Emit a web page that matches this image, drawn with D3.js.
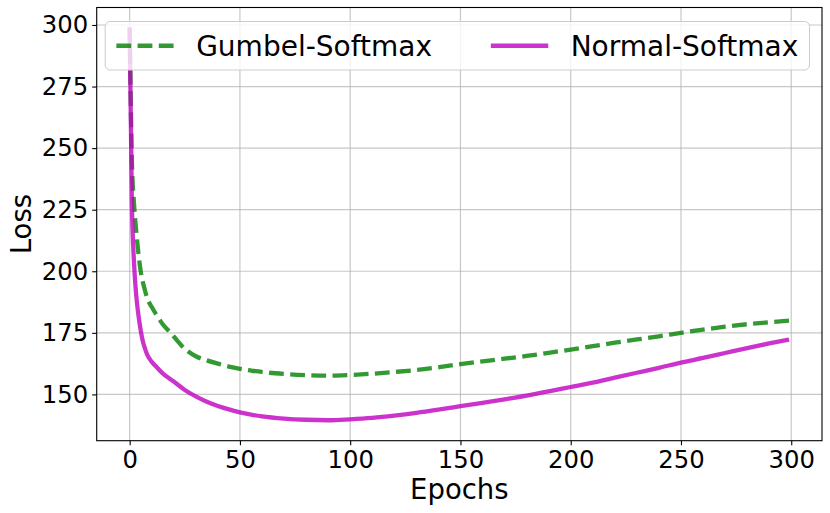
<!DOCTYPE html>
<html>
<head>
<meta charset="utf-8">
<script src="https://cdn.jsdelivr.net/npm/d3@7"></script>
<style>
  body { margin: 0; background: #fff; }
  svg { font-family: "DejaVu Sans", sans-serif; }
</style>
</head>
<body>
<svg id="chart" width="830" height="513"></svg>
<script>
// epochs (denser where the curves drop)
const epochs = [0, 1, 2, 3, 4, 5, 6, 7, 8, 9, 10, 12, 15, 18, 20, 25, 30, 35, 40, 45, 50, 55, 60,
  70, 80, 90, 100, 110, 120, 130, 140, 150, 160, 170, 180, 190, 200, 210, 220, 230, 240, 250,
  260, 270, 280, 290, 299];

const gumbel = [299, 245, 227, 216, 207, 200, 195.5, 192, 189, 187, 185.5, 182.5, 178.5, 175.5, 173.5,
  168.5, 165.5, 163.8, 162.5, 161.3, 160.4, 159.7, 159.1, 158.3, 157.8, 157.6, 157.9, 158.4, 159.1,
  159.9, 161, 162.3, 163.4, 164.5, 165.6, 166.9, 168.2, 169.6, 171, 172.3, 173.6, 175, 176.3, 177.5,
  178.5, 179.3, 180];

const normal = [299, 228, 203, 190, 182, 176, 171.5, 168.5, 166, 164.5, 163.2, 161.3, 158.5, 156.5, 155.2,
  151.8, 149.2, 147, 145.3, 143.9, 142.7, 141.8, 141.1, 140.2, 139.7, 139.5, 139.9, 140.5, 141.4,
  142.5, 143.8, 145.2, 146.6, 148, 149.5, 151.2, 153, 154.8, 156.8, 158.8, 160.8, 162.9, 164.8, 166.8,
  168.8, 170.7, 172.3];

const xTicks = [0, 50, 100, 150, 200, 250, 300];
const yTicks = [150, 175, 200, 225, 250, 275, 300];
const seriesNames = ["Gumbel-Softmax", "Normal-Softmax"];

const pl = 96.7, pr = 822, pt = 7.5, pb = 440.7;
const svg = d3.select("#chart");

const x = d3.scaleLinear().domain([-14.95, 313.95]).range([pl, pr]);
const y = d3.scaleLinear().domain([131.2, 307.1]).range([pb, pt]);

// grid
const grid = svg.append("g").attr("stroke", "#b0b0b0").attr("stroke-opacity", 0.7).attr("stroke-width", 1.2);
grid.selectAll(".gx").data(xTicks).enter().append("line")
  .attr("x1", d => x(d)).attr("x2", d => x(d)).attr("y1", pt).attr("y2", pb);
grid.selectAll(".gy").data(yTicks).enter().append("line")
  .attr("x1", pl).attr("x2", pr).attr("y1", d => y(d)).attr("y2", d => y(d));

// lines
const line = d3.line().x((d, i) => x(epochs[i])).y(d => y(d)).curve(d3.curveMonotoneX);
svg.append("path").datum(gumbel)
  .attr("d", line).attr("fill", "none")
  .attr("stroke", "#008000").attr("stroke-opacity", 0.8)
  .attr("stroke-width", 4.3).attr("stroke-dasharray", "14.8,6.4");
svg.append("path").datum(normal)
  .attr("d", line).attr("fill", "none")
  .attr("stroke", "#bf00bf").attr("stroke-opacity", 0.8)
  .attr("stroke-width", 4.3);

// axes
const xAxis = svg.append("g").attr("transform", `translate(0,${pb})`)
  .call(d3.axisBottom(x).tickValues(xTicks).tickSize(4.5).tickPadding(6));
const yAxis = svg.append("g").attr("transform", `translate(${pl},0)`)
  .call(d3.axisLeft(y).tickValues(yTicks).tickSize(4.5).tickPadding(4));
[xAxis, yAxis].forEach(a => {
  a.select(".domain").remove();
  a.selectAll("text").attr("font-size", 24.3).attr("fill", "#000").attr("font-family", "DejaVu Sans");
  a.selectAll("line").attr("stroke", "#000").attr("stroke-width", 1.1);
});

svg.append("rect").attr("x", pl).attr("y", pt)
  .attr("width", pr - pl).attr("height", pb - pt)
  .attr("fill", "none").attr("stroke", "#000").attr("stroke-width", 1.1);

svg.append("text").attr("x", (pl + pr) / 2).attr("y", 499)
  .attr("text-anchor", "middle").attr("font-size", 27.5).text("Epochs");
svg.append("text").attr("transform", `translate(31,${(pt + pb) / 2}) rotate(-90)`)
  .attr("text-anchor", "middle").attr("font-size", 27.5).text("Loss");

// legend, two columns, upper center
const fs = 28;
const lg = svg.append("g");
const box = lg.append("rect").attr("rx", 5).attr("fill", "#fff").attr("fill-opacity", 0.8)
  .attr("stroke", "#cccccc").attr("stroke-width", 1);
const labels = seriesNames.map(n => lg.append("text").attr("font-size", fs).text(n));
const widths = labels.map(t => t.node().getComputedTextLength());
const pad = 0.4 * fs, hl = 2.05 * fs, htp = 0.8 * fs, cs = 2.1 * fs;
const boxW = 2 * pad + 2 * (hl + htp) + widths[0] + widths[1] + cs;
const boxH = 48.5;
const bx = (pl + pr) / 2 - 2 - boxW / 2, by = pt + 0.5 * fs;
box.attr("x", bx).attr("y", by).attr("width", boxW).attr("height", boxH);
const cy = by + boxH / 2;
let cx = bx + pad;
[
  { color: "#008000", dash: "14.8,6.4" },
  { color: "#bf00bf", dash: null }
].forEach((s, i) => {
  lg.append("line").attr("x1", cx).attr("x2", cx + hl).attr("y1", cy).attr("y2", cy)
    .attr("stroke", s.color).attr("stroke-opacity", 0.8).attr("stroke-width", 4.3)
    .attr("stroke-dasharray", s.dash);
  labels[i].attr("x", cx + hl + htp).attr("y", cy + 0.36 * fs);
  cx += hl + htp + widths[i] + cs;
});
</script>
</body>
</html>
